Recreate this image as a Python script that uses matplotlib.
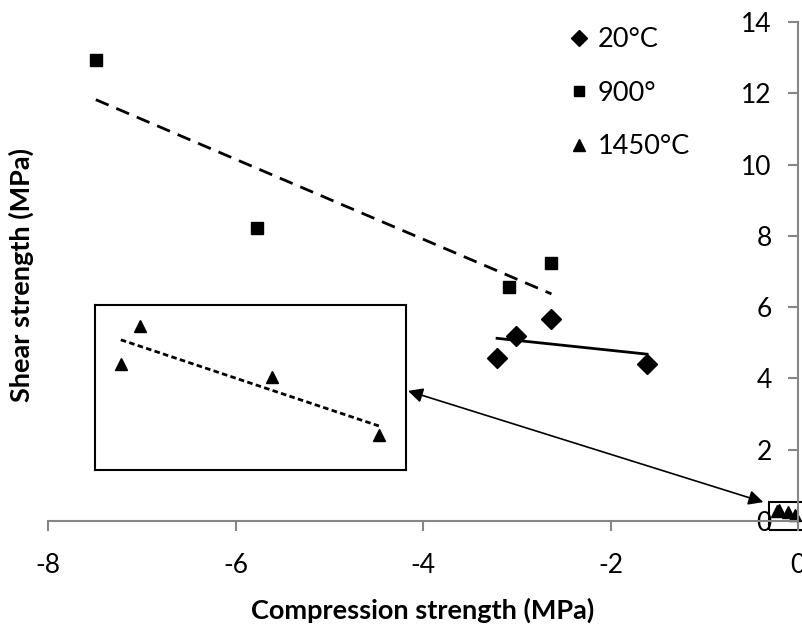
import numpy as np
import matplotlib as mpl
mpl.use('Agg')
import matplotlib.pyplot as plt
from matplotlib.patches import Rectangle
from matplotlib.lines import Line2D

plt.rcParams['font.family'] = ['Lato', 'DejaVu Sans']
plt.rcParams['axes.unicode_minus'] = False

# shear vs compression strength, three firing temperatures
x20 = [-3.21, -3.01, -2.63, -1.61]
y20 = [4.57, 5.19, 5.67, 4.41]
x900 = [-7.49, -5.77, -3.08, -2.63]
y900 = [12.93, 8.22, 6.57, 7.24]
x1450 = [-0.22, -0.206, -0.109, -0.03]
y1450 = [0.268, 0.32, 0.25, 0.17]

labels = ['20°C', '900°', '1450°C']
xticks = [-8, -6, -4, -2, 0]
yticks = [0, 2, 4, 6, 8, 10, 12, 14]


def trend(x, y):
    k, b = np.polyfit(x, y, 1)
    xs = np.array([min(x), max(x)])
    return xs, k * xs + b


grey = '#868686'
fig = plt.figure(figsize=(8.03, 6.25), dpi=100)
ax = fig.add_axes([0.0598, 0.1664, 0.934, 0.7984])

ax.plot(x20, y20, 'D', color='black', ms=10, clip_on=False)
ax.plot(x900, y900, 's', color='black', ms=9, clip_on=False)
ax.plot(x1450, y1450, '^', color='black', ms=8, clip_on=False)

tx, ty = trend(x20, y20)
ax.plot(tx, ty, '-', color='black', lw=2)
tx, ty = trend(x900, y900)
ax.plot(tx, ty, '--', color='black', lw=2, dashes=(5, 3))

ax.set_xlim(-8, 0)
ax.set_ylim(0, 14)
ax.set_xticks(xticks)
ax.set_yticks(yticks)
ax.spines['left'].set_position(('data', 0))
ax.spines['right'].set_visible(False)
ax.spines['top'].set_visible(False)
for s in ['left', 'bottom']:
    ax.spines[s].set_color(grey)
    ax.spines[s].set_linewidth(1.5)
ax.tick_params(colors=grey, labelcolor='black', labelsize=19, length=7, width=1.5)
ax.tick_params(axis='x', pad=16)
ax.tick_params(axis='y', pad=12)

ax.set_xlabel('Compression strength (MPa)', fontsize=19.5, fontweight='bold', labelpad=14)
fig.text(0.027, 0.56, 'Shear strength (MPa)', rotation=90, fontsize=19.5,
         fontweight='bold', ha='center', va='center')

# box marking the zoomed region
ax.add_patch(Rectangle((-0.31, -0.25), 0.5, 0.78, fill=False, ec='black',
                       lw=1.5, clip_on=False))

# zoom of the 1450 °C points
ins = fig.add_axes([0.1183, 0.248, 0.3873, 0.264])
ins.plot(x1450, y1450, '^', color='black', ms=8)
tx, ty = trend(x1450, y1450)
ins.plot(tx, ty, '--', color='black', lw=2, dashes=(2, 1.2))
ins.set_xlim(-0.239, -0.010)
ins.set_ylim(0.122, 0.349)
ins.set_xticks([])
ins.set_yticks([])
for s in ins.spines.values():
    s.set_linewidth(1.5)

ax.annotate('', xy=(-4.16, 3.65), xytext=(-0.37, 0.53),
            arrowprops=dict(arrowstyle='<|-|>', color='black', lw=1.2,
                            mutation_scale=22, shrinkA=0, shrinkB=0))

handles = [Line2D([], [], marker=m, ls='', color='black', ms=s)
           for m, s in zip(['D', 's', '^'], [8, 7, 9])]
ax.legend(handles, labels, loc='upper left', bbox_to_anchor=(0.67, 0.995),
          bbox_transform=fig.transFigure, frameon=False, fontsize=19.5,
          handletextpad=0.1, labelspacing=1.05, handlelength=1.2)

fig.savefig('out.png', dpi=100)
